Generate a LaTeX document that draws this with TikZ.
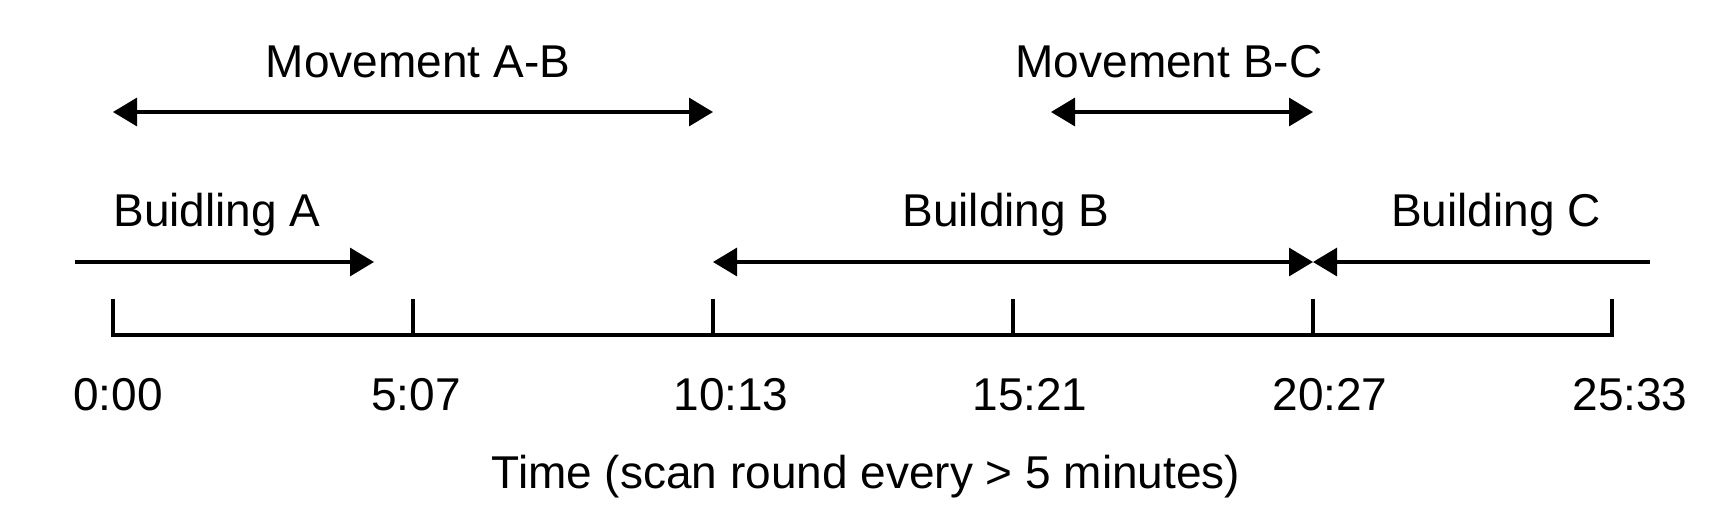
\documentclass[tikz,border=0pt]{standalone}
\usepackage{fontspec}
\setmainfont{Liberation Sans}
\usetikzlibrary{arrows.meta}
\begin{document}
\begin{tikzpicture}[x=0.5pt,y=-0.5pt,
  lbl/.style={font=\fontsize{23}{28}\selectfont, inner sep=0pt, anchor=base},
  ln/.style={line width=1.6pt},
  arr/.style={ln, -{Triangle[length=12pt,width=14pt]}},
  darr/.style={ln, {Triangle[length=12pt,width=14pt]}-{Triangle[length=12pt,width=14pt]}}]
\useasboundingbox (0,0) rectangle (1725,525);
% axis
\foreach \n/\x in {t0/113,t1/413,t2/713,t3/1013,t4/1313,t5/1612}{
  \coordinate (\n) at (\x,335);
  \coordinate (\n top) at (\x,299);
}
\draw[ln] (t0top) -- (t0) -- (t5) -- (t5top);
\foreach \n in {t1,t2,t3,t4}{ \draw[ln] (\n top) -- (\n); }
% tick labels
\node[lbl] (l0) at (118,410) {0:00};
\node[lbl] (l1) at (416,410) {5:07};
\node[lbl] (l2) at (731,410) {10:13};
\node[lbl] (l3) at (1030,410) {15:21};
\node[lbl] (l4) at (1330,410) {20:27};
\node[lbl] (l5) at (1630,410) {25:33};
\node[lbl] (time) at (866,488) {Time (scan round every > 5 minutes)};
% building arrows
\coordinate (aS) at (75,262);
\coordinate (aE) at (374,262);
\coordinate (bS) at (713,262);
\coordinate (bE) at (1313,262);
\coordinate (cE) at (1650,262);
\draw[arr] (aS) -- (aE);
\draw[darr] (bS) -- (bE);
\draw[arr] (cE) -- (bE);
\node[lbl, anchor=base west] (bA) at (113,226) {Buidling A};
\node[lbl] (bB) at (1006,226) {Building B};
\node[lbl] (bC) at (1496,226) {Building C};
% movement arrows
\coordinate (mAS) at (113,112);
\coordinate (mAE) at (713,112);
\coordinate (mBS) at (1051,112);
\coordinate (mBE) at (1313,112);
\draw[darr] (mAS) -- (mAE);
\draw[darr] (mBS) -- (mBE);
\node[lbl] (mAB) at (418,77) {Movement A-B};
\node[lbl] (mBC) at (1169,77) {Movement B-C};
\end{tikzpicture}
\end{document}
